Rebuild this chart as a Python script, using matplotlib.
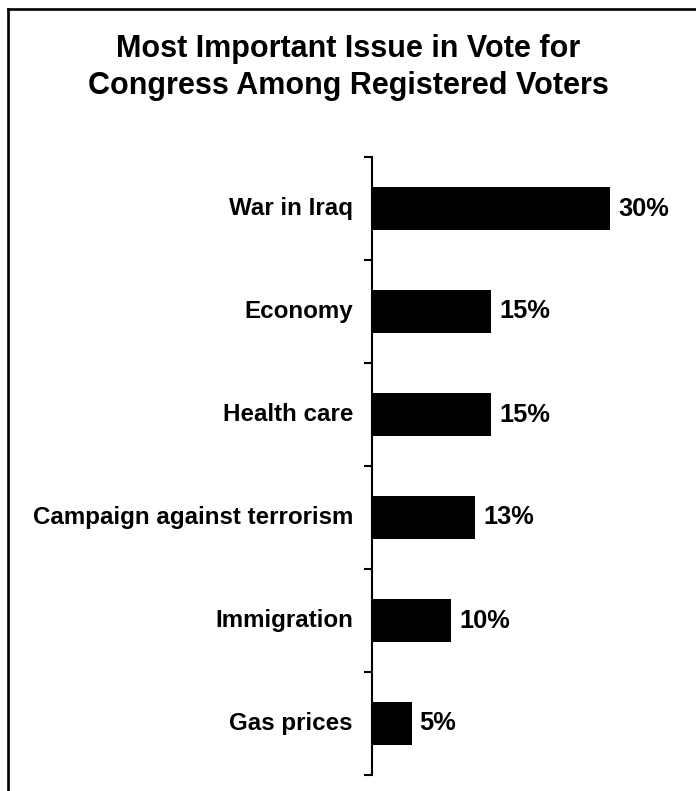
import matplotlib.pyplot as plt
from matplotlib.lines import Line2D

issues = ['War in Iraq', 'Economy', 'Health care', 'Campaign against terrorism',
          'Immigration', 'Gas prices']
pct = [30, 15, 15, 13, 10, 5]

plt.rcParams['font.family'] = ['Liberation Sans', 'DejaVu Sans']

W, H = 696, 791
fig = plt.figure(figsize=(W / 100, H / 100), dpi=100)

# frame: only top and left edges are inside the image
fx, fy = 7.5 / W, 1 - 9 / H
fig.add_artist(Line2D([fx, fx], [0, fy], transform=fig.transFigure, color='black', lw=1.9))
fig.add_artist(Line2D([fx, 1], [fy, fy], transform=fig.transFigure, color='black', lw=1.9))

ax = fig.add_axes([372 / W, 1 - 775 / H, 277.6 / W, 618 / H])
y = list(range(len(issues)))
ax.barh(y, pct, height=0.41, color='black')
ax.set_xlim(0, 35)
ax.set_ylim(len(issues) - 0.5, -0.5)

for s in ['top', 'right', 'bottom']:
    ax.spines[s].set_visible(False)
ax.spines['left'].set_linewidth(1.5)
ax.set_xticks([])
ax.set_yticks([i - 0.5 for i in range(len(issues) + 1)])
ax.set_yticklabels([])
ax.tick_params(axis='y', length=6, width=1.5, direction='out')

for i, (lab, v) in enumerate(zip(issues, pct)):
    ax.text(-2.4, i, lab, ha='right', va='center', fontsize=17.4, fontweight='bold')
    ax.text(v + 1.0, i, f'{v}%', ha='left', va='center', fontsize=18.3, fontweight='bold')

fig.text(0.5, 1 - 57 / H, 'Most Important Issue in Vote for',
         ha='center', va='baseline', fontsize=22, fontweight='bold')
fig.text(0.5, 1 - 94 / H, 'Congress Among Registered Voters',
         ha='center', va='baseline', fontsize=22, fontweight='bold')

fig.savefig('out.png', dpi=100)
